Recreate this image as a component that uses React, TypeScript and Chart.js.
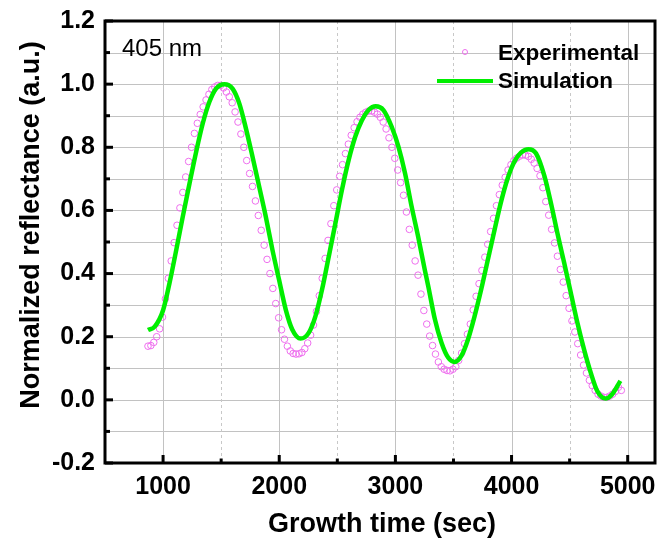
import { useEffect, useRef } from 'react';
import { Chart, registerables } from 'chart.js';
Chart.register(...registerables);

// Experimental reflectance, sampled every 25 s starting at 870 s
const expStart = 870;
const expStep = 25;
const expValues = [
  0.170, 0.172, 0.182, 0.200, 0.225, 0.262, 0.320, 0.385, 0.440, 0.498,
  0.553, 0.608, 0.657, 0.706, 0.755, 0.800, 0.844, 0.876, 0.904, 0.928,
  0.950, 0.968, 0.983, 0.991, 0.996, 0.996, 0.988, 0.975, 0.960, 0.941,
  0.912, 0.880, 0.842, 0.800, 0.758, 0.717, 0.676, 0.630, 0.584, 0.537,
  0.490, 0.445, 0.400, 0.353, 0.305, 0.260, 0.222, 0.192, 0.170, 0.155,
  0.147, 0.145, 0.146, 0.150, 0.162, 0.180, 0.205, 0.237, 0.280, 0.330,
  0.385, 0.448, 0.505, 0.558, 0.615, 0.665, 0.708, 0.745, 0.780, 0.810,
  0.838, 0.862, 0.881, 0.895, 0.905, 0.911, 0.915, 0.915, 0.911, 0.905,
  0.895, 0.880, 0.858, 0.830, 0.800, 0.765, 0.728, 0.688, 0.648, 0.595,
  0.540, 0.490, 0.440, 0.395, 0.335, 0.283, 0.240, 0.202, 0.172, 0.145,
  0.120, 0.105, 0.097, 0.093, 0.092, 0.097, 0.105, 0.125, 0.148, 0.178,
  0.208, 0.240, 0.285, 0.328, 0.368, 0.410, 0.452, 0.493, 0.533, 0.575,
  0.615, 0.650, 0.680, 0.705, 0.728, 0.745, 0.758, 0.766, 0.772, 0.776,
  0.775, 0.771, 0.762, 0.750, 0.733, 0.710, 0.672, 0.628, 0.585, 0.540,
  0.497, 0.455, 0.413, 0.373, 0.330, 0.290, 0.250, 0.215, 0.178, 0.142,
  0.110, 0.085, 0.062, 0.045, 0.030, 0.018, 0.012, 0.008, 0.008, 0.012,
  0.018, 0.027, 0.040, 0.030,
];

// Simulation curve
const simTimes = [
  870, 928, 1000, 1056, 1114, 1170, 1228, 1285, 1342, 1399,
  1456, 1527, 1598, 1656, 1713, 1770, 1827, 1884, 1941, 1998,
  2056, 2112, 2184, 2255, 2312, 2369, 2427, 2484, 2540, 2598,
  2655, 2712, 2769, 2831, 2897, 2968, 3026, 3083, 3140, 3197,
  3254, 3283, 3340, 3397, 3454, 3511, 3568, 3625, 3682, 3739,
  3796, 3854, 3910, 3967, 4025, 4081, 4145, 4210, 4282, 4338,
  4395, 4453, 4510, 4567, 4624, 4681, 4738, 4809, 4866, 4937,
];
const simValues = [
  0.221, 0.232, 0.284, 0.371, 0.476, 0.581, 0.686, 0.786, 0.876, 0.944,
  0.986, 1.000, 0.986, 0.939, 0.860, 0.770, 0.676, 0.581, 0.476, 0.381,
  0.286, 0.223, 0.194, 0.213, 0.265, 0.350, 0.455, 0.560, 0.665, 0.760,
  0.834, 0.886, 0.918, 0.930, 0.918, 0.865, 0.802, 0.718, 0.612, 0.515,
  0.410, 0.360, 0.255, 0.181, 0.134, 0.120, 0.139, 0.191, 0.265, 0.350,
  0.444, 0.539, 0.628, 0.702, 0.755, 0.783, 0.794, 0.781, 0.710, 0.625,
  0.528, 0.434, 0.339, 0.244, 0.160, 0.087, 0.028, 0.004, 0.018, 0.060,
];

const xMajorTicks = [1000, 2000, 3000, 4000, 5000];
const xMinorTicks = [1500, 2500, 3500, 4500];
const yMajorTicks = [-0.2, 0.0, 0.2, 0.4, 0.6, 0.8, 1.0, 1.2];
const yMinorTicks = [-0.1, 0.1, 0.3, 0.5, 0.7, 0.9, 1.1];

const xTitle = 'Growth time (sec)';
const yTitle = 'Normalized reflectance (a.u.)';
const annotation = '405 nm';
const expLabel = 'Experimental';
const simLabel = 'Simulation';

const EXP_COLOR = '#ee6fee';
const SIM_COLOR = '#00ee00';
const FONT = '"Liberation Sans", Arial, sans-serif';

const decor = {
  id: 'decor',
  beforeDatasetsDraw(chart: any) {
    const { ctx, chartArea: a, scales } = chart;
    const x = scales.x, y = scales.y;
    ctx.save();
    ctx.lineWidth = 1;
    ctx.strokeStyle = '#c2c2c2';
    const yGrid = [...yMajorTicks, ...yMinorTicks];
    for (const v of yGrid) {
      const py = Math.round(y.getPixelForValue(v)) + 0.5;
      ctx.beginPath(); ctx.moveTo(a.left, py); ctx.lineTo(a.right, py); ctx.stroke();
    }
    for (const v of xMajorTicks) {
      const px = Math.round(x.getPixelForValue(v)) + 0.5;
      ctx.beginPath(); ctx.moveTo(px, a.top); ctx.lineTo(px, a.bottom); ctx.stroke();
    }
    ctx.setLineDash([3, 3]);
    ctx.strokeStyle = '#c8c8c8';
    for (const v of xMinorTicks) {
      const px = Math.round(x.getPixelForValue(v)) + 0.5;
      ctx.beginPath(); ctx.moveTo(px, a.top); ctx.lineTo(px, a.bottom); ctx.stroke();
    }
    ctx.restore();
  },
  afterDatasetsDraw(chart: any) {
    const { ctx, chartArea: a, scales } = chart;
    const x = scales.x, y = scales.y;
    ctx.save();
    ctx.strokeStyle = '#000';
    ctx.lineWidth = 3;
    ctx.lineCap = 'butt';
    for (const v of xMajorTicks) {
      const px = x.getPixelForValue(v);
      ctx.beginPath(); ctx.moveTo(px, a.bottom); ctx.lineTo(px, a.bottom - 8); ctx.stroke();
    }
    for (const v of xMinorTicks) {
      const px = x.getPixelForValue(v);
      ctx.beginPath(); ctx.moveTo(px, a.bottom); ctx.lineTo(px, a.bottom - 4.5); ctx.stroke();
    }
    for (const v of yMajorTicks) {
      const py = y.getPixelForValue(v);
      ctx.beginPath(); ctx.moveTo(a.left, py); ctx.lineTo(a.left + 8, py); ctx.stroke();
    }
    for (const v of yMinorTicks) {
      const py = y.getPixelForValue(v);
      ctx.beginPath(); ctx.moveTo(a.left, py); ctx.lineTo(a.left + 5, py); ctx.stroke();
    }
    ctx.lineJoin = 'miter';
    ctx.strokeRect(a.left, a.top, a.right - a.left, a.bottom - a.top);
    ctx.restore();
  },
  afterDraw(chart: any) {
    const { ctx, chartArea: a } = chart;
    ctx.save();
    ctx.fillStyle = '#000';
    // annotation
    ctx.font = `24px ${FONT}`;
    ctx.textAlign = 'left';
    ctx.textBaseline = 'alphabetic';
    ctx.fillText(annotation, 122, 56);
    // legend
    ctx.font = `bold 22.5px ${FONT}`;
    ctx.fillText(expLabel, 498, 60);
    ctx.fillText(simLabel, 498, 88);
    ctx.strokeStyle = EXP_COLOR;
    ctx.lineWidth = 1;
    ctx.beginPath(); ctx.arc(465, 52, 2.5, 0, Math.PI * 2); ctx.stroke();
    ctx.strokeStyle = SIM_COLOR;
    ctx.lineWidth = 4;
    ctx.beginPath(); ctx.moveTo(437, 81); ctx.lineTo(493, 81); ctx.stroke();
    // axis titles
    ctx.fillStyle = '#000';
    ctx.font = `bold 27px ${FONT}`;
    ctx.textAlign = 'center';
    ctx.fillText(xTitle, 382, 532);
    ctx.save();
    ctx.translate(39, 225);
    ctx.rotate(-Math.PI / 2);
    ctx.fillText(yTitle, 0, 0);
    ctx.restore();
    ctx.restore();
  },
};

export default function App() {
  const ref = useRef<HTMLCanvasElement | null>(null);
  useEffect(() => {
    if (!ref.current) return;
    const expData = expValues.map((v, i) => ({ x: expStart + i * expStep, y: v }));
    const simData = simTimes.map((t, i) => ({ x: t, y: simValues[i] }));
    const chart = new Chart(ref.current, {
      type: 'scatter',
      data: {
        datasets: [
          {
            label: simLabel,
            data: simData,
            showLine: true,
            borderColor: SIM_COLOR,
            borderWidth: 4.5,
            pointRadius: 0,
            cubicInterpolationMode: 'monotone',
            fill: false,
          },
          {
            label: expLabel,
            data: expData,
            showLine: false,
            pointStyle: 'circle',
            pointRadius: 3.3,
            pointBorderWidth: 1,
            pointBorderColor: EXP_COLOR,
            pointBackgroundColor: 'rgba(0,0,0,0)',
            borderColor: EXP_COLOR,
          },
        ],
      } as any,
      options: {
        responsive: false,
        animation: false,
        layout: { padding: { top: 21, right: 2, left: 0, bottom: 0 } },
        plugins: { legend: { display: false }, tooltip: { enabled: false } },
        scales: {
          x: {
            type: 'linear',
            min: 500,
            max: 5235,
            afterBuildTicks: (s: any) => { s.ticks = xMajorTicks.map((v) => ({ value: v })); },
            afterFit: (s: any) => { s.height = 76; s.paddingLeft = 0; s.paddingRight = 0; },
            grid: { display: false, drawTicks: false },
            border: { display: false },
            ticks: {
              padding: 9,
              color: '#000',
              font: { family: FONT, size: 25, weight: 'bold' },
              maxRotation: 0,
              autoSkip: false,
              callback: (v: any) => String(v),
            },
          },
          y: {
            type: 'linear',
            min: -0.2,
            max: 1.2,
            afterBuildTicks: (s: any) => { s.ticks = yMajorTicks.map((v) => ({ value: v })); },
            afterFit: (s: any) => { s.width = 105; s.paddingTop = 0; s.paddingBottom = 0; },
            grid: { display: false, drawTicks: false },
            border: { display: false },
            ticks: {
              padding: 10,
              color: '#000',
              font: { family: FONT, size: 25, weight: 'bold' },
              autoSkip: false,
              callback: (v: any) => Number(v).toFixed(1),
            },
          },
        },
      } as any,
      plugins: [decor],
    });
    return () => chart.destroy();
  }, []);
  return (
    <div style={{ position: 'absolute', left: 0, top: 0, width: 660, height: 539, background: '#fff' }}>
      <canvas ref={ref} width={660} height={539} style={{ display: 'block' }} />
    </div>
  );
}
